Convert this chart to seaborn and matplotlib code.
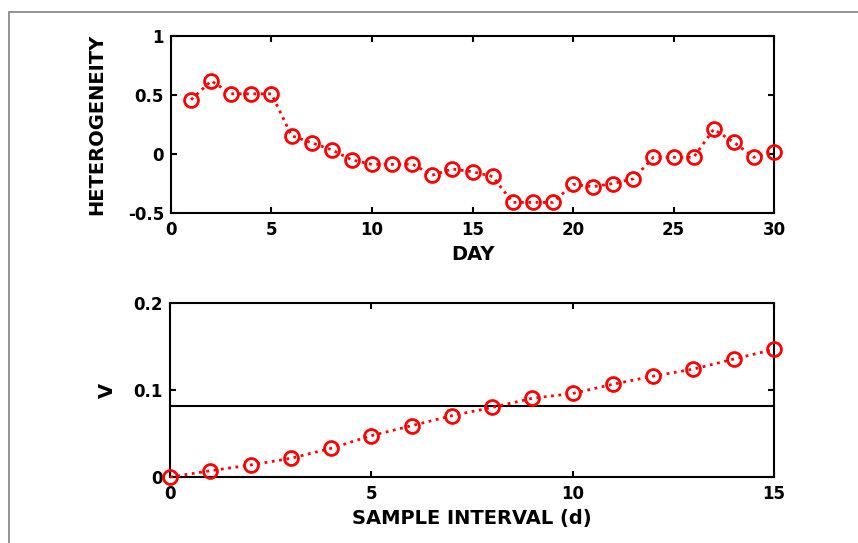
"""Heterogeneity by day and V against sample interval."""

import matplotlib

matplotlib.use("Agg")
import matplotlib.pyplot as plt
from matplotlib.patches import Rectangle
import pandas as pd
import seaborn as sns


# top panel: heterogeneity per day
days = list(range(1, 31))
heterogeneity = [
    0.46, 0.62, 0.51, 0.51, 0.51, 0.155, 0.095, 0.035, -0.05, -0.088,
    -0.088, -0.085, -0.18, -0.127, -0.15, -0.19, -0.41, -0.41, -0.41, -0.257,
    -0.277, -0.25, -0.21, -0.028, -0.028, -0.028, 0.21, 0.10, -0.028, 0.02,
]

# bottom panel: V per sample interval
intervals = list(range(0, 16))
v_values = [
    0.0, 0.0072, 0.0138, 0.0215, 0.033, 0.0475, 0.059, 0.0705,
    0.080, 0.0905, 0.096, 0.1066, 0.116, 0.124, 0.1356, 0.1467,
]
v_reference = 0.082

RED = "#FF0000"
TICK_SIZE = 12
LABEL_SIZE = 14

sns.set_theme(style="ticks")
plt.rcParams["font.family"] = ["DejaVu Sans"]
plt.rcParams["font.weight"] = "bold"
plt.rcParams["axes.labelweight"] = "bold"
plt.rcParams["axes.labelcolor"] = "black"
plt.rcParams["text.color"] = "black"
plt.rcParams["axes.linewidth"] = 1.5
plt.rcParams["xtick.direction"] = "in"
plt.rcParams["ytick.direction"] = "in"


def series_plot(ax, x, y):
    sns.lineplot(
        x=x,
        y=y,
        ax=ax,
        color=RED,
        linestyle=":",
        linewidth=2,
        marker="o",
        markersize=10,
        markerfacecolor="none",
        markeredgecolor=RED,
        markeredgewidth=2,
        clip_on=False,
        zorder=5,
    )


def style_axes(ax):
    ax.tick_params(
        which="both", top=True, right=True, length=4.5, width=1.5,
        labelsize=TICK_SIZE, color="black", labelcolor="black",
    )
    ax.tick_params(axis="x", pad=6)
    ax.tick_params(axis="y", pad=5)
    for label in ax.get_xticklabels() + ax.get_yticklabels():
        label.set_fontweight("bold")
    for spine in ax.spines.values():
        spine.set_color("black")
        spine.set_linewidth(1.5)


fig = plt.figure(figsize=(8.58, 5.43), dpi=100)
fig.patch.set_facecolor("white")

top = fig.add_axes([0.1993, 0.6077, 0.7028, 0.3260])
df_top = pd.DataFrame({"day": days, "het": heterogeneity})
series_plot(top, df_top["day"], df_top["het"])
top.set_xlim(0, 30)
top.set_ylim(-0.5, 1)
top.set_xticks([0, 5, 10, 15, 20, 25, 30])
top.set_yticks([-0.5, 0, 0.5, 1])
top.set_yticklabels(["-0.5", "0", "0.5", "1"])
top.set_xlabel("DAY", fontsize=LABEL_SIZE, labelpad=4, color="black")
top.set_ylabel("HETEROGENEITY", fontsize=LABEL_SIZE, color="black")
top.yaxis.set_label_coords(-0.108, 0.5)
style_axes(top)

bottom = fig.add_axes([0.1981, 0.1215, 0.7040, 0.3205])
df_bot = pd.DataFrame({"interval": intervals, "v": v_values})
series_plot(bottom, df_bot["interval"], df_bot["v"])
bottom.axhline(v_reference, color="black", linewidth=1.5)
bottom.set_xlim(0, 15)
bottom.set_ylim(0, 0.2)
bottom.set_xticks([0, 5, 10, 15])
bottom.set_yticks([0, 0.1, 0.2])
bottom.set_yticklabels(["0", "0.1", "0.2"])
bottom.set_xlabel("SAMPLE INTERVAL (d)", fontsize=LABEL_SIZE, labelpad=4,
                  color="black")
bottom.set_ylabel("V", fontsize=LABEL_SIZE, color="black")
bottom.yaxis.set_label_coords(-0.088, 0.5)
style_axes(bottom)

# thin grey frame around the figure (left and top edges visible)
fig.add_artist(
    Rectangle(
        (9 / 858, -0.05), 1.2, 0.978 + 0.05,
        transform=fig.transFigure, fill=False,
        edgecolor="#808080", linewidth=1.2,
    )
)

fig.savefig("out.png", dpi=100, facecolor="white")
